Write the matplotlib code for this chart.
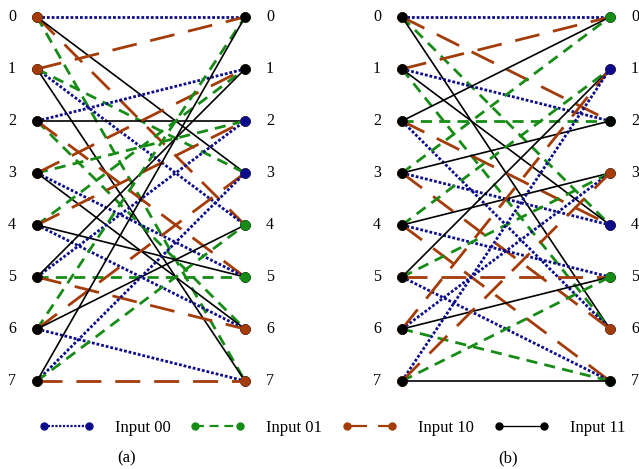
import matplotlib.pyplot as plt
from matplotlib.lines import Line2D

plt.rcParams['font.family'] = ['Liberation Serif', 'DejaVu Serif']

# --- trellis data: next state for each (state, input) ---
states = list(range(8))
inputs = ["00", "01", "10", "11"]
next_a = [[0, 7, 4, 3], [4, 3, 0, 7], [1, 6, 5, 2], [5, 2, 1, 6],
          [6, 1, 2, 5], [2, 5, 6, 1], [7, 0, 3, 4], [3, 4, 7, 0]]
next_b = [[0, 4, 2, 6], [2, 6, 0, 4], [6, 2, 4, 0], [4, 0, 6, 2],
          [5, 1, 7, 3], [7, 3, 5, 1], [3, 7, 1, 5], [1, 5, 3, 7]]
panel_names = ["(a)", "(b)"]

# --- styles per input ---
colors = {"00": "#0c0c8a", "01": "#168c16", "10": "#a43c08", "11": "black"}
styles = {"00": (0, (1.0, 0.7)), "01": (0, (4, 2.6)), "10": (0, (9, 5)), "11": "-"}
widths = {"00": 2.0, "01": 2.0, "10": 2.0, "11": 1.2}

# layout (pixels)
W, H = 639, 469
y0, dy = 17, 52
x_left = [37, 402]
x_right = [245, 610]
left_override = [{0: "10", 1: "10"}, {}]

fig = plt.figure(figsize=(W / 100, H / 100), dpi=100)
ax = fig.add_axes([0, 0, 1, 1])
ax.set_xlim(0, W)
ax.set_ylim(H, 0)
ax.axis("off")


def draw_trellis(nxt, xl, xr, override):
    for s in states:
        for k, u in enumerate(inputs):
            t = nxt[s][k]
            ax.plot([xl, xr], [y0 + s * dy, y0 + t * dy], color=colors[u],
                    ls=styles[u], lw=widths[u], marker="o", ms=6.5,
                    mec=colors[u], mfc=colors[u], zorder=2)
    # left node colours as seen in the figure
    for s, u in override.items():
        ax.plot(xl, y0 + s * dy, "o", ms=6.5, color=colors[u], zorder=3)
    for s in states:
        ax.text(xl - 25, y0 + s * dy, str(s), ha="center", va="center", fontsize=11.5)
        ax.text(xr + 25, y0 + s * dy, str(s), ha="center", va="center", fontsize=11.5)


draw_trellis(next_a, x_left[0], x_right[0], left_override[0])
draw_trellis(next_b, x_left[1], x_right[1], left_override[1])

ax.text(127, 458, panel_names[0], ha="center", va="center", fontsize=12)
ax.text(508, 458, panel_names[1], ha="center", va="center", fontsize=12)

handles = [Line2D([0], [0], color=colors[u], ls=styles[u], lw=widths[u] * 0.8,
                  marker="o", ms=5) for u in inputs]
labels = ["Input " + u for u in inputs]
fig.legend(handles, labels, loc="center", ncol=4, frameon=False,
           bbox_to_anchor=(332 / W, 1 - 428 / H), handlelength=3.3,
           handletextpad=1.25, columnspacing=1.2, fontsize=12, numpoints=2)

fig.savefig("out.png", dpi=100)
